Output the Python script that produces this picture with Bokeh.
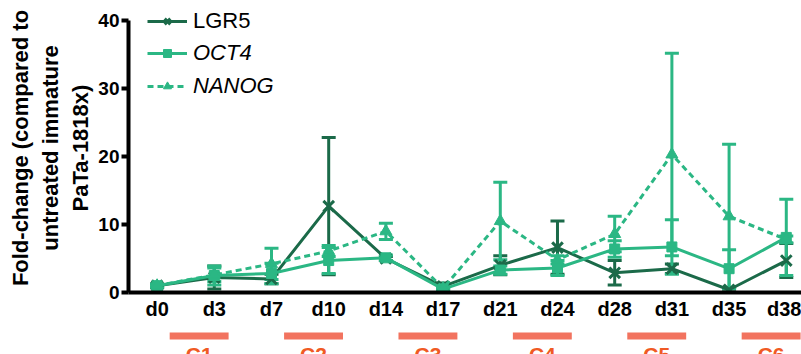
from bokeh.plotting import figure
from bokeh.layouts import column
from bokeh.models import (ColumnDataSource, Range1d, FixedTicker, Whisker, TeeHead,
                          Legend, LegendItem)
from bokeh.core.properties import value
from bokeh.embed import file_html
from bokeh.resources import INLINE

# ---------------- data ----------------
days = ["d0", "d3", "d7", "d10", "d14", "d17", "d21", "d24", "d28", "d31", "d35", "d38"]

lgr5 = [1.0, 2.2, 2.0, 12.7, 5.0, 0.9, 4.0, 6.6, 2.9, 3.5, 0.4, 4.7]
lgr5_err = [0.3, 1.7, 0.7, 10.1, 0.3, 0.5, 1.4, 3.9, 1.8, 0.7, 0.3, 2.5]

oct4 = [1.0, 2.5, 2.8, 4.7, 5.1, 0.5, 3.3, 3.6, 6.4, 6.7, 3.5, 8.1]
oct4_err = [0.2, 1.4, 1.5, 1.9, 0.4, 0.2, 0.6, 1.1, 1.2, 4.0, 2.8, 5.6]

nanog = [1.0, 2.6, 4.2, 6.1, 9.0, 0.6, 10.5, 4.8, 8.6, 20.3, 11.2, 7.8]
nanog_err = [0.2, 1.0, 2.3, 0.8, 1.2, 0.2, 5.7, 0.6, 2.6, 14.9, 10.6, 0.5]

cycle_labels = ["C1", "C2", "C3", "C4", "C5", "C6"]
cycle_start = [0.22, 2.22, 4.22, 6.22, 8.22, 10.22]
cycle_end = [1.25, 3.25, 5.25, 7.25, 9.25, 11.25]

y_ticks = [0, 10, 20, 30, 40]

# ---------------- styles ----------------
DARK = "#1b6a49"
MID = "#2bb784"
BAR = "#f2735f"
CLAB = "#f05a24"
FONT = "Liberation Sans"

xs = list(range(len(days)))

p = figure(width=801, height=325, x_range=Range1d(-0.5, 11.266), y_range=Range1d(0, 42.5),
           output_backend="svg", toolbar_location=None,
           min_border_left=128, min_border_right=0, min_border_top=3, min_border_bottom=33)
p.outline_line_color = None
p.grid.visible = False

# x axis
p.xaxis.ticker = FixedTicker(ticks=xs)
p.xaxis.major_label_overrides = {i: d for i, d in enumerate(days)}
p.xaxis.major_tick_out = 0
p.xaxis.major_tick_in = 0
p.xaxis.minor_tick_out = 0
p.xaxis.minor_tick_in = 0
p.xaxis.axis_line_width = 4
p.xaxis.axis_line_color = "black"
p.xaxis.major_label_text_font = FONT
p.xaxis.major_label_text_font_style = "bold"
p.xaxis.major_label_text_font_size = "20px"
p.xaxis.major_label_text_color = "black"
p.xaxis.major_label_standoff = 5

# y axis
p.yaxis.ticker = FixedTicker(ticks=y_ticks)
p.yaxis.bounds = (0, 40)
p.yaxis.major_tick_out = 7
p.yaxis.major_tick_in = 0
p.yaxis.major_tick_line_width = 4
p.yaxis.minor_tick_out = 0
p.yaxis.minor_tick_in = 0
p.yaxis.axis_line_width = 4
p.yaxis.major_label_text_font = FONT
p.yaxis.major_label_text_font_style = "bold"
p.yaxis.major_label_text_font_size = "19px"
p.yaxis.major_label_text_color = "black"
p.yaxis.major_label_standoff = 2
p.yaxis.axis_label = "Fold-change (compared to\nuntreated immature\nPaTa-1818x)"
p.yaxis.axis_label_text_font = FONT
p.yaxis.axis_label_text_font_style = "bold"
p.yaxis.axis_label_text_font_size = "22px"
p.yaxis.axis_label_text_color = "black"
p.yaxis.axis_label_text_line_height = 1.2
p.yaxis.axis_label_standoff = 2


def series(vals, errs, color, marker, msize, dash):
    src = ColumnDataSource(dict(x=xs, y=vals,
                                upper=[v + e for v, e in zip(vals, errs)],
                                lower=[v - e for v, e in zip(vals, errs)]))
    w = Whisker(base="x", upper="upper", lower="lower", source=src,
                line_color=color, line_width=3,
                upper_head=TeeHead(size=14, line_color=color, line_width=3),
                lower_head=TeeHead(size=14, line_color=color, line_width=3))
    p.add_layout(w)
    ln = p.line("x", "y", source=src, line_color=color, line_width=3, line_dash=dash)
    sc = p.scatter("x", "y", source=src, marker=marker, size=msize,
                   line_color=color, fill_color=color, line_width=3 if marker == "x" else 1)
    return ln, sc


l1, s1 = series(lgr5, lgr5_err, DARK, "x", 15, "solid")
l2, s2 = series(oct4, oct4_err, MID, "square", 10, "solid")
l3, s3 = series(nanog, nanog_err, MID, "triangle", 12, "6 4")


def style_legend(leg, italic):
    leg.border_line_color = None
    leg.background_fill_alpha = 0
    leg.padding = 0
    leg.margin = 0
    leg.glyph_width = 40
    leg.glyph_height = 20
    leg.label_height = 20
    leg.label_standoff = 6
    leg.spacing = 7
    leg.label_text_font = FONT
    leg.label_text_font_size = "22px"
    leg.label_text_color = "black"
    leg.label_text_font_style = "italic" if italic else "normal"


leg1 = Legend(items=[LegendItem(label="LGR5", renderers=[l1, s1])], location=(19, 258))
style_legend(leg1, False)
leg2 = Legend(items=[LegendItem(label="OCT4", renderers=[l2, s2]),
                     LegendItem(label="NANOG", renderers=[l3, s3])], location=(19, 193))
style_legend(leg2, True)
p.add_layout(leg1)
p.add_layout(leg2)

# cycle bars
p2 = figure(width=801, height=29, x_range=p.x_range, y_range=Range1d(29, 0),
            x_axis_type=None, y_axis_type=None, output_backend="svg", toolbar_location=None,
            min_border_left=128, min_border_right=0, min_border_top=0, min_border_bottom=0)
p2.outline_line_color = None
p2.grid.visible = False
csrc = ColumnDataSource(dict(left=cycle_start, right=cycle_end,
                             mid=[(a + b) / 2 for a, b in zip(cycle_start, cycle_end)],
                             label=cycle_labels))
p2.quad(left="left", right="right", top=7, bottom=14, source=csrc,
        fill_color=BAR, line_color=None)
p2.text(x="mid", y=17, text="label", source=csrc, text_align="center", text_baseline="top",
        text_font=value(FONT), text_font_style="bold", text_font_size="21px", text_color=CLAB)

layout = column(p, p2, spacing=0)
open("out.html", "w").write(file_html(layout, INLINE))
